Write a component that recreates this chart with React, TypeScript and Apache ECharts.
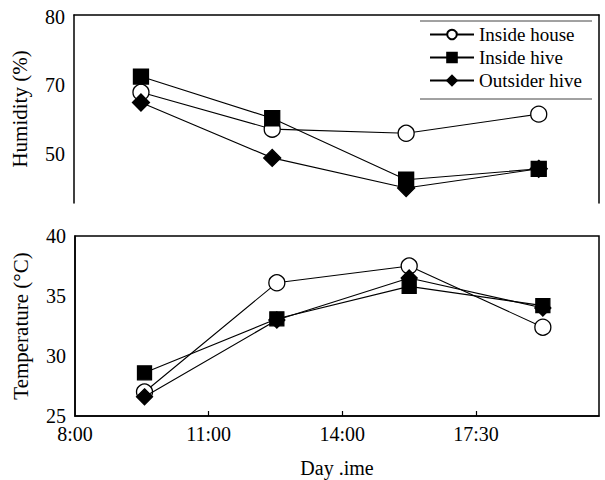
import React, { useEffect, useRef } from "react";
import * as echarts from "echarts";

// ---- data ----
const seriesNames = ["Inside house", "Inside hive", "Outsider hive"];

// x positions in "tick units": 0 = 8:00, 1 = 11:00, 2 = 14:00, 3 = 17:30
const timeTickValues = [0, 1, 2, 3];
const timeTickLabels = ["8:00", "11:00", "14:00", "17:30"];
const xHumidity = [0.5, 1.48, 2.48, 3.47];
const xTemperature = [0.52, 1.51, 2.5, 3.5];

// Humidity (%) panel
const humidityTickValues = [60, 70, 80];
const humidityTickLabels = ["50", "70", "80"];
const insideHouseHumidity = [69.0, 63.6, 63.0, 65.8];
const insideHiveHumidity = [71.3, 65.2, 56.2, 57.8];
const outsiderHiveHumidity = [67.5, 59.4, 55.0, 57.8];

// Temperature (°C) panel
const insideHouseTemp = [27.0, 36.1, 37.5, 32.4];
const insideHiveTemp = [28.6, 33.1, 35.8, 34.2];
const outsiderHiveTemp = [26.6, 33.0, 36.5, 34.0];

const FONT = "Liberation Serif";

function pairs(xs: number[], ys: number[]) {
  return ys.map((y, i) => [xs[i], y]);
}

export default function App() {
  const ref = useRef<HTMLDivElement>(null);

  useEffect(() => {
    if (!ref.current) return;
    const chart = echarts.init(ref.current, undefined, { renderer: "svg" });

    const symbolDefs = [
      { symbol: "circle", fill: "#fff", sizeTop: 16, sizeBottom: 16 },
      { symbol: "rect", fill: "#000", sizeTop: 15, sizeBottom: 14 },
      { symbol: "diamond", fill: "#000", sizeTop: 17, sizeBottom: 16 },
    ];
    const humidity = [insideHouseHumidity, insideHiveHumidity, outsiderHiveHumidity];
    const temperature = [insideHouseTemp, insideHiveTemp, outsiderHiveTemp];

    const series: any[] = [];
    seriesNames.forEach((name, i) => {
      const d = symbolDefs[i];
      series.push({
        type: "line",
        name,
        xAxisIndex: 0,
        yAxisIndex: 0,
        data: pairs(xHumidity, humidity[i]),
        symbol: d.symbol,
        symbolSize: d.sizeTop,
        showAllSymbol: true,
        lineStyle: { color: "#000", width: 1.1 },
        itemStyle: { color: d.fill, borderColor: "#000", borderWidth: 1.3, opacity: 1 },
        z: 2 + i,
      });
    });
    seriesNames.forEach((name, i) => {
      const d = symbolDefs[i];
      series.push({
        type: "line",
        name,
        xAxisIndex: 1,
        yAxisIndex: 2,
        data: pairs(xTemperature, temperature[i]),
        symbol: d.symbol,
        symbolSize: d.sizeBottom,
        showAllSymbol: true,
        lineStyle: { color: "#000", width: 1.1 },
        itemStyle: { color: d.fill, borderColor: "#000", borderWidth: 1.3, opacity: 1 },
        z: 2 + i,
      });
    });

    const axisLabelStyle = { color: "#000", fontFamily: FONT, fontSize: 20 };
    const lineBlack = { show: true, lineStyle: { color: "#000", width: 1.5 } };

    chart.setOption({
      animation: false,
      backgroundColor: "#fff",
      textStyle: { fontFamily: FONT },
      grid: [
        { left: 74, top: 15, right: 6, height: 188 },
        {
          left: 75,
          top: 236,
          right: 6,
          height: 180,
          show: true,
          borderColor: "#000",
          borderWidth: 1.5,
        },
      ],
      legend: {
        data: seriesNames,
        orient: "vertical",
        left: 424,
        top: 20,
        itemWidth: 44,
        itemHeight: 12,
        itemGap: 4,
        textStyle: { color: "#000", fontFamily: FONT, fontSize: 19 },
      },
      xAxis: [
        {
          type: "value",
          gridIndex: 0,
          position: "top",
          min: 0,
          max: 3.92,
          axisLine: lineBlack,
          axisTick: { show: false },
          axisLabel: { show: false },
          splitLine: { show: false },
        },
        {
          type: "value",
          gridIndex: 1,
          position: "bottom",
          min: 0,
          max: 3.92,
          name: "Day .ime",
          nameLocation: "middle",
          nameGap: 42,
          nameTextStyle: { color: "#000", fontFamily: FONT, fontSize: 20 },
          axisLine: lineBlack,
          axisTick: {
            show: true,
            inside: true,
            length: 5,
            customValues: timeTickValues.slice(1),
            lineStyle: { color: "#000", width: 1.2 },
          },
          axisLabel: {
            ...axisLabelStyle,
            margin: 8,
            customValues: timeTickValues,
            formatter: (v: number) => {
              const idx = timeTickValues.indexOf(Math.round(v * 100) / 100);
              return idx >= 0 ? timeTickLabels[idx] : "";
            },
          },
          splitLine: { show: false },
        },
      ],
      yAxis: [
        {
          type: "value",
          gridIndex: 0,
          min: 52.8,
          max: 80.3,
          name: "Humidity (%)",
          nameLocation: "middle",
          nameGap: 44,
          nameTextStyle: { color: "#000", fontFamily: FONT, fontSize: 21 },
          axisLine: lineBlack,
          axisTick: { show: false },
          axisLabel: {
            ...axisLabelStyle,
            margin: 9,
            customValues: humidityTickValues,
            formatter: (v: number) => {
              const idx = humidityTickValues.indexOf(Math.round(v));
              return idx >= 0 ? humidityTickLabels[idx] : "";
            },
          },
          splitLine: { show: false },
        },
        {
          type: "value",
          gridIndex: 0,
          position: "right",
          min: 52.8,
          max: 80.3,
          axisLine: lineBlack,
          axisTick: { show: false },
          axisLabel: { show: false },
          splitLine: { show: false },
        },
        {
          type: "value",
          gridIndex: 1,
          min: 25,
          max: 40,
          interval: 5,
          name: "Temperature (°C)",
          nameLocation: "middle",
          nameGap: 44,
          nameTextStyle: { color: "#000", fontFamily: FONT, fontSize: 21 },
          axisLine: lineBlack,
          axisTick: { show: false },
          axisLabel: { ...axisLabelStyle, margin: 9 },
          splitLine: { show: false },
        },
      ],
      graphic: [
        {
          type: "line",
          shape: { x1: 420, y1: 21, x2: 592, y2: 21 },
          style: { stroke: "#444", lineWidth: 1 },
        },
        {
          type: "line",
          shape: { x1: 420, y1: 99, x2: 592, y2: 99 },
          style: { stroke: "#444", lineWidth: 1 },
        },
      ],
      series,
    });

    return () => chart.dispose();
  }, []);

  return (
    <div
      ref={ref}
      style={{ position: "absolute", left: 0, top: 0, width: 605, height: 480 }}
    />
  );
}
